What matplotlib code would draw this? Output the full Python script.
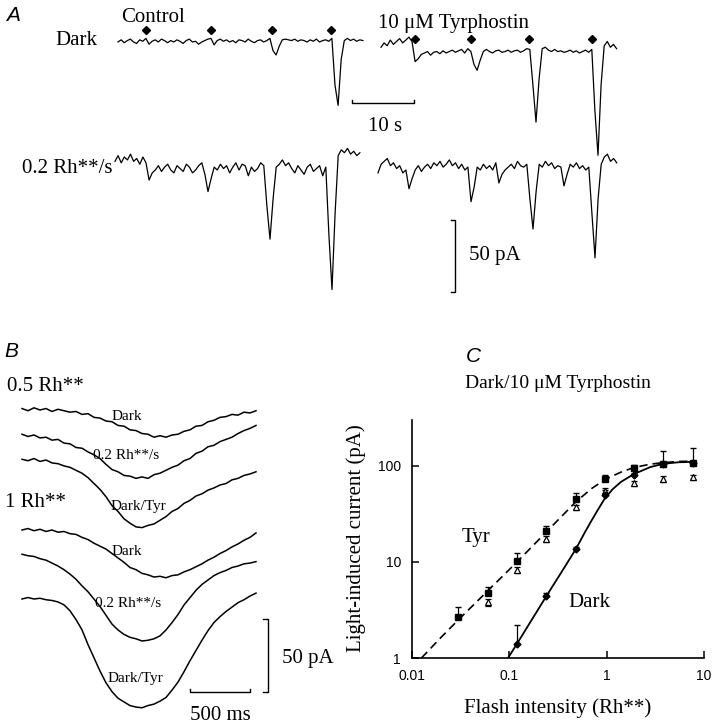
import numpy as np
import matplotlib
matplotlib.use("Agg")
import matplotlib.pyplot as plt

plt.rcParams['font.family'] = ['Liberation Serif', 'DejaVu Serif']

# ---------------- data ----------------
# Panel A: currents (pA, relative to baseline), sampled every 0.5 s
A_DT = 0.5
ctrl_dark = [0, 1.5, -0.5, 1, 2, 0, -1, 1.5, 0.5, 2.5,
             -1.5, 0.5, 1.5, 0, 2, 1, -0.5, 1, 0, 1.5,
             0.5, -1, 1, 2, 0, 0.5, -1.5, 0, 1, 2,
             2.5, -2, 1, 2, 0.5, 1.5, 0, 1, -0.5, 1.5,
             1, 0, 2, 0.5, -0.5, 1, 1.5, 0, 1, 2.5,
             -6, -9, -3, 1.5, 2, 1.5, 1, 2, 0.5, 1.5,
             1, 0, 1.5, 0.5, 2, 0, 1, 1.5, 0.5, 2.5,
             -30, -44, -12, 1, 2.5, 1, 2, 0.5, 1.5, 1]
tyr_dark = [4, 7, 5, 9, 6, 8, 10, 7, 9, 11,
            8, -6, -4, -1, 0, 1, -1.5, 0.5, 1, -0.5,
            1.5, 0, 1, 2, 0.5, 1.5, 2.5, 0, 3, 1,
            -8, -12, -5, 1, 2.5, 1, 0, 1.5, 2, 0.5,
            1, 2, 0.5, 1.5, 2, 0.5, 1.5, 3, 2.5, -22,
            -48, -18, 3, 4, 2, 1, 2.5, 1, 1.5, 0.5,
            1, 2, 0.5, 1.5, 0, 1, 2, 0.5, 2.5, -40,
            -71, -22, 5, 8, 4, 6, 3]
ctrl_light = [6, 10, 5, 9, 7, 11, 6, 8, 4, 9,
              5, -7, -2, 0, 3, -1, 2, 4, 0, -2,
              3, 1, -1, 4, 2, -2, 0, 3, 5, -3,
              -15, -6, 2, 0, 4, 1, 3, -2, 2, 5,
              0, 4, 3, -4, 2, -1, 1, 5, 3, -25,
              -48, -20, 2, 4, 7, 3, 5, 1, -2, 3,
              0, -3, 2, 4, -1, 1, 3, -4, 2, -45,
              -83, -30, 10, 14, 12, 15, 11, 13, 10, 12]
tyr_light = [-2, 4, 6, 8, 3, 5, 1, 3, -2, 0,
             -13, -6, 0, 3, -1, 2, 4, 1, 5, 3,
             6, 2, 4, 7, 3, 5, 1, 4, 0, 2,
             -22, -12, 2, 0, 4, 1, 3, 0, 5, -9,
             -3, 0, 2, 4, 1, 6, 3, 2, 4, -20,
             -41, -15, 4, 2, 6, 3, 5, 1, 3, 2,
             -11, -3, 4, 2, 5, 1, 3, 0, 2, -30,
             -61, -20, 4, 9, 11, 6, 8, 5]
ctrl_flash = [4.5, 15.0, 24.8, 34.3]   # s from trace start
tyr_flash = [5.5, 14.5, 23.9, 34.0]

# Panel B: flash responses (pA), sampled every 50 ms
B_DT = 0.05
b_dark_05 = [1, -0.5, 1.5, 0, 1, -1, 0.5, -0.5, -1.5, -1,
             -3, -2.5, -5, -5.5, -7.5, -8, -10.5, -11, -13.5, -14,
             -16, -16.5, -18.5, -17.5, -18.5, -17, -16.5, -14.5, -13.5, -11,
             -10.5, -8, -7, -5, -4.5, -3, -3.5, -1.5, -2, -0.5]
b_light_05 = [0.5, -1, 0, -2, -1.5, -3.5, -3, -5.5, -6, -8.5,
              -9, -11.5, -13.5, -16, -20, -23.5, -25, -27.5, -28, -29.5,
              -28.5, -29.5, -27, -26, -24, -22, -20.5, -17.5, -16, -12.5,
              -11, -8, -7, -4.5, -3, -1.5, 1, 3, 4.5, 6.5]
b_tyr_05 = [0.5, -0.5, 1, -1, 0, -2, -2.5, -4, -5, -7,
            -9, -12, -16, -20, -25, -31, -35, -40, -43, -45.5,
            -46, -44.5, -43.5, -41, -38.5, -35, -33, -29.5, -27.5, -24.5,
            -23, -20.5, -19, -17, -16, -13.5, -12.5, -10.5, -9.5, -8]
b_dark_1 = [0, 1, -0.5, 0.5, -1, 0, -1.5, -1, -2.5, -3,
            -5, -6.5, -9, -11, -13, -16, -19, -22, -25.5, -27,
            -29.5, -30.5, -32, -31.5, -32.5, -31, -30.5, -28.5, -27, -25,
            -23, -20.5, -18.5, -16, -14, -11.5, -9.5, -7, -5, -2]
b_light_1 = [0.5, -0.5, -1, -2.5, -3.5, -5.5, -7.5, -10, -13, -16.5,
             -21, -25, -30, -35, -41, -47, -51, -54, -56, -57,
             -58.5, -58, -57, -55, -51, -46, -40.5, -34, -29, -24,
             -20, -17, -14, -12, -10.5, -8.5, -7.5, -6, -5.5, -4.5]
b_tyr_1 = [0, 1, 0, 0.5, -0.5, -1, -2, -4, -8, -14,
           -21, -31, -40, -49, -57, -63, -67.5, -70, -72.5, -73.5,
           -74, -72.5, -71.5, -69.5, -67, -62, -56.5, -49.5, -42, -35,
           -28, -21.5, -16, -12, -8.5, -5.5, -2.5, -0.5, 2, 4]
b_labels = ['Dark', '0.2 Rh**/s', 'Dark/Tyr', 'Dark', '0.2 Rh**/s', 'Dark/Tyr']

# Panel C: intensity-response (Rh**, pA)
tyr_x = [0.03, 0.06, 0.12, 0.24, 0.48, 0.96, 1.9, 3.8, 7.7]
tyr_y = [2.65, 4.8, 10.2, 21, 45, 73, 95, 105, 107]
tyr_err = [0.75, 0.7, 2.2, 2.7, 7, 7, 8, 0, 0]
tri_x = [0.06, 0.12, 0.24, 0.48, 0.96, 1.9, 3.8, 7.7]
tri_y = [3.8, 8.3, 17.5, 37, 55, 66, 73, 76]
tri_err = [0.3, 0.6, 1.2, 2.5, 4, 4, 5, 5]
dark_x = [0.12, 0.24, 0.48, 0.96, 1.9, 3.8, 7.7]
dark_y = [1.4, 4.4, 13.5, 50, 80, 105, 108]
dark_err = [0.8, 0.3, 0.8, 6, 4, 38, 45]
tyr_fit_x = [0.0125, 0.02, 0.03, 0.06, 0.12, 0.24, 0.48, 0.7, 0.96, 1.4, 1.9, 2.8, 3.8, 5.5, 7.7]
tyr_fit_y = [1, 1.65, 2.5, 5, 10, 20.5, 42, 58, 72, 86, 96, 104, 108, 111, 112]
dark_fit_x = [0.097, 0.12, 0.17, 0.24, 0.34, 0.48, 0.6, 0.7, 0.8, 0.96, 1.15, 1.4, 1.9, 2.8, 3.8, 5.5, 7.7]
dark_fit_y = [1, 1.41, 2.5, 4.4, 7.7, 13.5, 20.5, 27, 34, 46, 57, 68, 82, 97, 105, 109, 110]

# ---------------- layout helpers (pixels, top-left origin) ----------------
W, H = 715, 725
fig = plt.figure(figsize=(W / 100, H / 100), dpi=100)


def px_axes(x0, y0, x1, y1):
    ax = fig.add_axes([x0 / W, 1 - y1 / H, (x1 - x0) / W, (y1 - y0) / H])
    return ax


def ftext(x, y, s, **kw):
    kw.setdefault('va', 'baseline')
    return fig.text(x / W, 1 - y / H, s, **kw)


sans_it = dict(family='Liberation Sans', style='italic', fontsize=15)

# ---------------- Panel A ----------------
A_PX_S, A_PX_PA = 6.2, 1.44
A_OX, A_OY = 118, 42
ax_x0, ax_y0, ax_x1, ax_y1 = 100, 0, 650, 320
axA = px_axes(ax_x0, ax_y0, ax_x1, ax_y1)
axA.set_xlim((ax_x0 - A_OX) / A_PX_S, (ax_x1 - A_OX) / A_PX_S)
axA.set_ylim((A_OY - ax_y1) / A_PX_PA, (A_OY - ax_y0) / A_PX_PA)
axA.axis('off')


def ax_t(px):
    return (px - A_OX) / A_PX_S


def ax_i(py):
    return (A_OY - py) / A_PX_PA


for vals, x0, y0 in [(ctrl_dark, 118, 42), (tyr_dark, 381, 53),
                     (ctrl_light, 115, 170), (tyr_light, 378, 170)]:
    t = ax_t(x0) + np.arange(len(vals)) * A_DT
    axA.plot(t, np.array(vals) + ax_i(y0), color='k', lw=0.9)

axA.plot(ax_t(118) + np.array(ctrl_flash), np.full(4, ax_i(42) + 8.5), 'D', color='k', ms=4)
axA.plot(ax_t(381) + np.array(tyr_flash), np.full(4, ax_i(53) + 9.5), 'D', color='k', ms=4)

# scale bars: 10 s and 50 pA
yb = ax_i(103)
axA.plot([ax_t(352), ax_t(352), ax_t(352) + 10, ax_t(352) + 10],
         [yb + 2, yb, yb, yb + 2], color='k', lw=1)
xb = ax_t(455)
yb0 = ax_i(292)
axA.plot([xb - 0.6, xb, xb, xb - 0.6], [yb0, yb0, yb0 + 50, yb0 + 50], color='k', lw=1)

ftext(6, 21, 'A', **sans_it)
ftext(121, 22, 'Control', fontsize=15)
ftext(55, 45, 'Dark', fontsize=15)
ftext(378, 28, '10 \u03bcM Tyrphostin', fontsize=15)
ftext(368, 131, '10 s', fontsize=15)
ftext(22, 173, '0.2 Rh**/s', fontsize=15)
ftext(469, 260, '50 pA', fontsize=15)

# ---------------- Panel B ----------------
B_PX_S, B_PX_PA = 120, 1.47
B_OX, B_OY = 22, 410
bx0, by0, bx1, by1 = 0, 390, 300, 725
axB = px_axes(bx0, by0, bx1, by1)
axB.set_xlim((bx0 - B_OX) / B_PX_S, (bx1 - B_OX) / B_PX_S)
axB.set_ylim((B_OY - by1) / B_PX_PA, (B_OY - by0) / B_PX_PA)
axB.axis('off')

b_traces = [b_dark_05, b_light_05, b_tyr_05, b_dark_1, b_light_1, b_tyr_1]
b_base_px = [410, 435, 460, 530, 555, 599]
for vals, yp in zip(b_traces, b_base_px):
    t = np.arange(len(vals)) * B_DT
    axB.plot(t, np.array(vals) + (B_OY - yp) / B_PX_PA, color='k', lw=1.1)

ybar = (B_OY - 692) / B_PX_PA
tb0 = (190 - B_OX) / B_PX_S
axB.plot([tb0, tb0, tb0 + 0.5, tb0 + 0.5], [ybar + 2, ybar, ybar, ybar + 2], color='k', lw=1)
xv = (268 - B_OX) / B_PX_S
axB.plot([xv - 0.04, xv, xv, xv - 0.04], [ybar, ybar, ybar + 50, ybar + 50], color='k', lw=1)

ftext(4, 357, 'B', **sans_it)
ftext(7, 391, '0.5 Rh**', fontsize=15)
ftext(5, 507, '1 Rh**', fontsize=15)
b_lab_pos = [(112, 420), (93, 459), (111, 510), (112, 555), (95, 607), (108, 682)]
for (xp, yp), lab in zip(b_lab_pos, b_labels):
    ftext(xp, yp, lab, fontsize=11)
ftext(190, 720, '500 ms', fontsize=15)
ftext(282, 663, '50 pA', fontsize=15)

# ---------------- Panel C ----------------
axC = px_axes(412, 420, 704, 658)
axC.set_xscale('log')
axC.set_yscale('log')
axC.set_xlim(0.01, 10)
axC.set_ylim(1, 300)

axC.plot(tyr_fit_x, tyr_fit_y, color='k', lw=1.2, dashes=(5, 3))
axC.plot(dark_fit_x, dark_fit_y, color='k', lw=1.3)
axC.errorbar(tri_x, tri_y, yerr=tri_err, fmt='^', ms=5, mfc='white', mec='k',
             color='k', capsize=2.5, elinewidth=0.8, mew=0.9)
axC.errorbar(tyr_x, tyr_y, yerr=[np.zeros(len(tyr_err)), tyr_err], fmt='s', ms=4.5,
             color='k', capsize=2.5, elinewidth=0.9)
axC.errorbar(dark_x, dark_y, yerr=[np.zeros(len(dark_err)), dark_err], fmt='D', ms=3.5,
             color='k', capsize=2.5, elinewidth=0.9)

for s in ['top', 'right']:
    axC.spines[s].set_visible(False)
for s in ['left', 'bottom']:
    axC.spines[s].set_linewidth(1.2)
axC.minorticks_off()
axC.set_xticks([0.01, 0.1, 1, 10])
axC.set_xticklabels(['0.01', '0.1', '1', '10'])
axC.set_yticks([1, 10, 100])
axC.set_yticklabels(['1', '10', '100'])
axC.tick_params(direction='in', length=5, width=1.1, pad=8, labelsize=10)
for lab in axC.get_xticklabels() + axC.get_yticklabels():
    lab.set_family('Liberation Sans')

ftext(466, 362, 'C', **sans_it)
ftext(558, 388, 'Dark/10 \u03bcM Tyrphostin', fontsize=14, ha='center')
ftext(462, 542, 'Tyr', fontsize=15)
ftext(568, 607, 'Dark', fontsize=15)
ftext(558, 713, 'Flash intensity (Rh**)', fontsize=15, ha='center')
fig.text(366 / W, 1 - 538 / H, 'Light-induced current (pA)', fontsize=15,
         rotation=90, ha='right', va='center')

fig.savefig('out.png', dpi=100)
